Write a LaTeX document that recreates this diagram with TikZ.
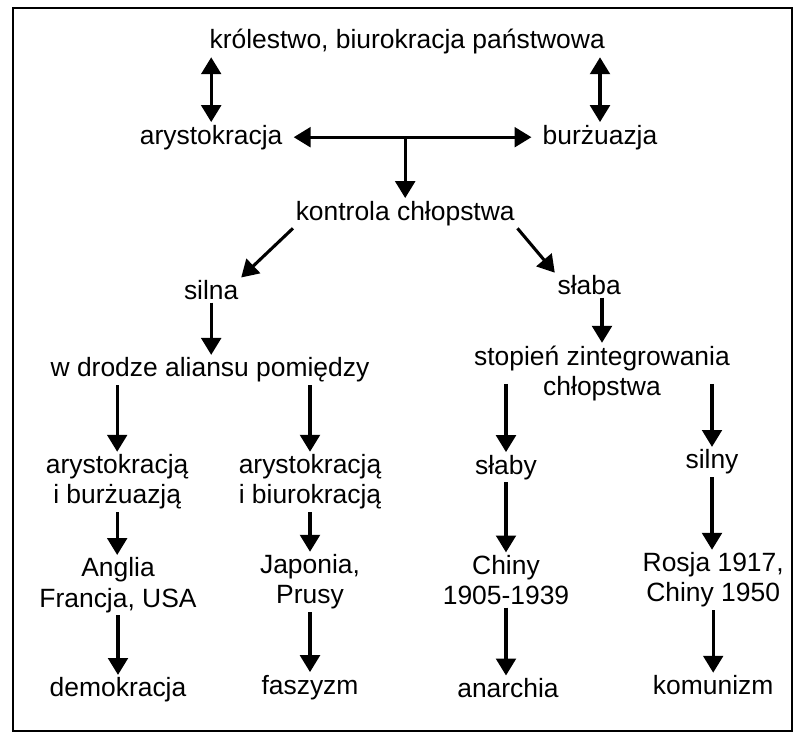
\documentclass[tikz,border=0pt]{standalone}
\usepackage{fontspec}
\setmainfont{Liberation Sans}
\usepackage{tikz}
\usetikzlibrary{arrows.meta, positioning, calc}

\begin{document}
\begin{tikzpicture}[
            pojecie/.style={inner sep=1pt, outer sep=1pt, align=center, font=\fontsize{18.8}{21.5}\selectfont},
            strzalka/.style={-{Triangle[length=12pt, width=14pt]}, line width=2.2pt},
            dwustrzalka/.style={{Triangle[length=12pt, width=14pt]}-{Triangle[length=12pt, width=14pt]}, line width=2.2pt}]

            \useasboundingbox (0,0) rectangle (20,-18.35);
            \draw[line width=1.4pt] (0.33,-0.2) rectangle (19.8,-18.28);

            \node[pojecie] (top) at (10.18,-1.05) {królestwo, biurokracja państwowa};
            \node[pojecie] (arys) at (5.28,-3.43) {arystokracja};
            \node[pojecie] (burz) at (15.0,-3.43) {burżuazja};
            \node[pojecie] (kontrola) at (10.13,-5.33) {kontrola chłopstwa};
            \node[pojecie] (silna) at (5.28,-7.25) {silna};
            \node[pojecie] (slaba) at (14.73,-7.13) {słaba};
            \node[pojecie] (wdrodze) at (5.25,-9.25) {w drodze aliansu pomiędzy};
            \node[pojecie] (stopien) at (15.05,-9.33) {stopień zintegrowania\\chłopstwa};
            \node[pojecie] (arbu) at (2.93,-12.05) {arystokracją\\i burżuazją};
            \node[pojecie] (arbi) at (7.75,-12.05) {arystokracją\\i biurokracją};
            \node[pojecie] (slaby) at (12.65,-11.68) {słaby};
            \node[pojecie] (silny) at (17.8,-11.55) {silny};
            \node[pojecie] (anglia) at (2.95,-14.63) {Anglia\\Francja, USA};
            \node[pojecie] (japonia) at (7.75,-14.55) {Japonia,\\Prusy};
            \node[pojecie] (chiny) at (12.65,-14.5) {Chiny\\1905-1939};
            \node[pojecie] (rosja) at (17.83,-14.5) {Rosja 1917,\\Chiny 1950};
            \node[pojecie] (demo) at (2.95,-17.25) {demokracja};
            \node[pojecie] (fasz) at (7.75,-17.18) {faszyzm};
            \node[pojecie] (anar) at (12.7,-17.2) {anarchia};
            \node[pojecie] (komu) at (17.83,-17.13) {komunizm};

            \coordinate (stopien-d) at ([yshift=14pt]stopien.south);

            \draw[dwustrzalka] (top.south -| arys.north) -- (arys.north);
            \draw[dwustrzalka] (top.south -| burz.north) -- (burz.north);
            \draw[dwustrzalka, shorten <=6pt, shorten >=6pt] (arys.east) -- (burz.west);
            \draw[strzalka] (arys.east -| kontrola.north) -- (kontrola.north);
            \draw[strzalka] (kontrola.south west) -- (silna.north east);
            \draw[strzalka] (kontrola.south east) -- (slaba.north west);
            \draw[strzalka] (silna.south) -- (silna.south |- wdrodze.north);
            \draw[strzalka] (slaba.south -| stopien.north) -- (stopien.north);
            \draw[strzalka] (wdrodze.south -| arbu.north) -- (arbu.north);
            \draw[strzalka] (wdrodze.south -| arbi.north) -- (arbi.north);
            \draw[strzalka] (stopien-d -| slaby.north) -- (slaby.north);
            \draw[strzalka] (stopien-d -| silny.north) -- (silny.north);
            \draw[strzalka] (arbu.south) -- (arbu.south |- anglia.north);
            \draw[strzalka] (arbi.south) -- (arbi.south |- japonia.north);
            \draw[strzalka] (slaby.south) -- (slaby.south |- chiny.north);
            \draw[strzalka] (silny.south) -- (silny.south |- rosja.north);
            \draw[strzalka] (anglia.south) -- (anglia.south |- demo.north);
            \draw[strzalka] (japonia.south) -- (japonia.south |- fasz.north);
            \draw[strzalka] (chiny.south) -- (chiny.south |- anar.north);
            \draw[strzalka] (rosja.south) -- (rosja.south |- komu.north);
\end{tikzpicture}
\end{document}
